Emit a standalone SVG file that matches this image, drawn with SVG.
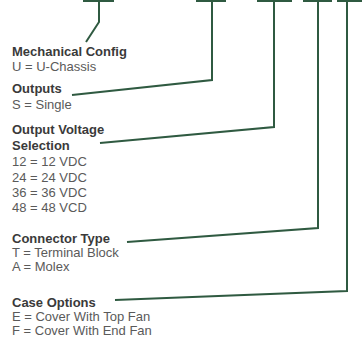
<svg xmlns="http://www.w3.org/2000/svg" width="362" height="341" viewBox="0 0 362 341">
<style>
.bg{fill:#ffffff}
.bar{fill:#2f5a41}
.ln{fill:none;stroke:#2f5a41;stroke-width:2;stroke-linejoin:miter}
.h{font-family:"Liberation Sans",Arial,sans-serif;font-size:13px;font-weight:bold;fill:#3a3a3a}
.t{font-family:"Liberation Sans",Arial,sans-serif;font-size:13px;fill:#5a5a5a}
</style>
<rect class="bg" x="0" y="0" width="362" height="341"/>
<g id="connectors">
<rect class="bar" x="83" y="0" width="31" height="2"/>
<rect class="bar" x="196" y="0" width="30" height="2"/>
<rect class="bar" x="257" y="0" width="35" height="2"/>
<rect class="bar" x="303" y="0" width="29" height="2"/>
<rect class="bar" x="337" y="0" width="25" height="2"/>
<polyline class="ln" points="99,0 99,22 86,42"/>
<polyline class="ln" points="212,0 212,80 72,95"/>
<polyline class="ln" points="274,0 274,127 100,143"/>
<polyline class="ln" points="318,0 318,228 127,242"/>
<polyline class="ln" points="347,0 347,291 115,300"/>
</g>
<g id="mechanical-config">
<text class="h" x="12" y="56">Mechanical Config</text>
<text class="t" x="12" y="71">U = U-Chassis</text>
</g>
<g id="outputs">
<text class="h" x="12" y="93">Outputs</text>
<text class="t" x="12" y="109">S = Single</text>
</g>
<g id="output-voltage">
<text class="h" x="12" y="134">Output Voltage</text>
<text class="h" x="12" y="150">Selection</text>
<text class="t" x="12" y="166">12 = 12 VDC</text>
<text class="t" x="12" y="182">24 = 24 VDC</text>
<text class="t" x="12" y="197">36 = 36 VDC</text>
<text class="t" x="12" y="212">48 = 48 VCD</text>
</g>
<g id="connector-type">
<text class="h" x="12" y="242.5">Connector Type</text>
<text class="t" x="12" y="256.5">T  = Terminal Block</text>
<text class="t" x="12" y="270.5">A  = Molex</text>
</g>
<g id="case-options">
<text class="h" x="12" y="306.5">Case Options</text>
<text class="t" x="12" y="320.5">E = Cover With Top Fan</text>
<text class="t" x="12" y="334.5">F = Cover With End Fan</text>
</g>
</svg>
